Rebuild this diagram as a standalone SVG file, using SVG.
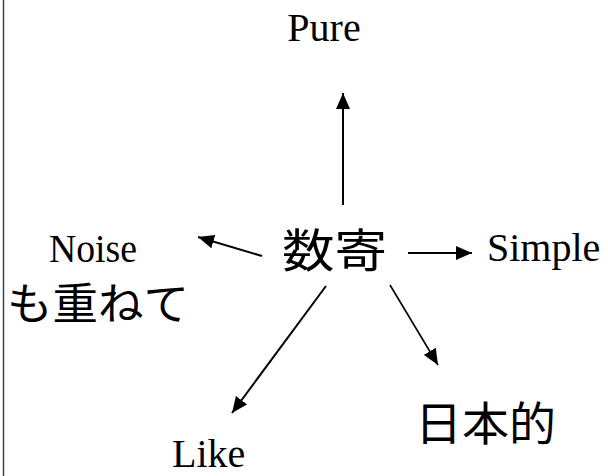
<svg xmlns="http://www.w3.org/2000/svg" width="608" height="476" viewBox="0 0 608 476">
<defs>
<marker id="ah" markerWidth="16" markerHeight="14" refX="16" refY="7" orient="auto" markerUnits="userSpaceOnUse" viewBox="0 0 16 14">
<path d="M0,0 L16,7 L0,14 z" fill="#000"/>
</marker>
<style>
.lat{font-family:"Liberation Serif",serif;font-size:40px;fill:#000}
.cjk{font-family:"Liberation Serif","Noto Sans CJK JP",serif;fill:#000}
.c{stroke:#000;stroke-width:2;fill:none;marker-end:url(#ah)}
</style>
</defs>
<rect width="608" height="476" fill="#fff"/>
<line x1="3.5" y1="0" x2="3.5" y2="476" stroke="#444" stroke-width="1.5"/>
<g id="connectors">
<line class="c" x1="343" y1="205" x2="343" y2="93"/>
<line class="c" x1="262" y1="256" x2="198" y2="237"/>
<line class="c" x1="408" y1="253" x2="472" y2="253"/>
<line class="c" x1="326" y1="286" x2="232" y2="413"/>
<line class="c" x1="390" y1="285" x2="438" y2="365" style="stroke-width:1.6"/>
</g>
<g id="pure"><text class="lat" x="324" y="41" text-anchor="middle">Pure</text></g>
<g id="center"><text class="cjk" x="282" y="267" font-size="46" textLength="105" lengthAdjust="spacingAndGlyphs">数寄</text></g>
<g id="noise"><text class="lat" x="49" y="262" textLength="88" lengthAdjust="spacingAndGlyphs">Noise</text><text class="cjk" x="7" y="320" font-size="44" textLength="182" lengthAdjust="spacingAndGlyphs">も重ねて</text></g>
<g id="simple"><text class="lat" x="487" y="261">Simple</text></g>
<g id="like"><text class="lat" x="172" y="467">Like</text></g>
<g id="nihon"><text class="cjk" x="415" y="440" font-size="46" textLength="141" lengthAdjust="spacingAndGlyphs">日本的</text></g>
</svg>
